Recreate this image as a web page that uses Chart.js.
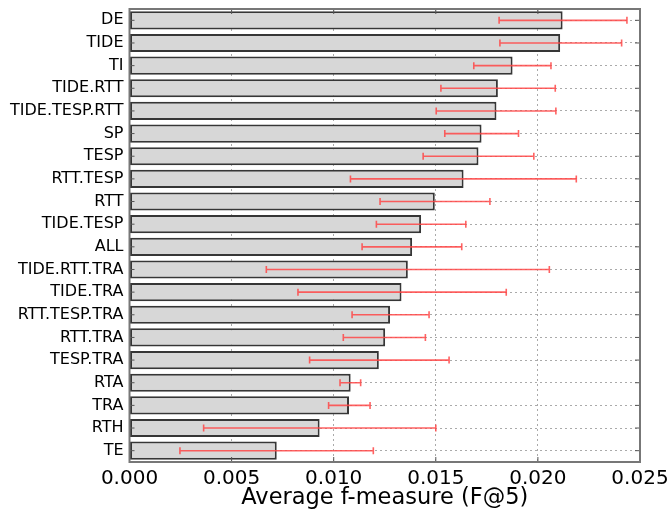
<!DOCTYPE html>
<html>
<head>
<meta charset="utf-8">
<script src="https://cdn.jsdelivr.net/npm/chart.js@4/dist/chart.umd.min.js"></script>
<style>
  html, body { margin: 0; padding: 0; background: #fff; }
  #wrap { width: 670px; height: 509px; }
</style>
</head>
<body>
<div id="wrap"><canvas id="chart"></canvas></div>
<script>
const categories = ['DE', 'TIDE', 'TI', 'TIDE.RTT', 'TIDE.TESP.RTT', 'SP', 'TESP', 'RTT.TESP', 'RTT', 'TIDE.TESP',
  'ALL', 'TIDE.RTT.TRA', 'TIDE.TRA', 'RTT.TESP.TRA', 'RTT.TRA', 'TESP.TRA', 'RTA', 'TRA', 'RTH', 'TE'];
const fMeasure = [0.02121, 0.02109, 0.01876, 0.01804, 0.01797, 0.01724, 0.01709, 0.01636, 0.01495, 0.01428,
  0.01384, 0.01363, 0.01332, 0.01276, 0.01252, 0.01221, 0.01083, 0.01075, 0.00931, 0.00721];
const errLow = [0.01810, 0.01814, 0.01686, 0.01525, 0.01502, 0.01544, 0.01438, 0.01082, 0.01227, 0.01209,
  0.01139, 0.00670, 0.00825, 0.01090, 0.01047, 0.00882, 0.01031, 0.00975, 0.00363, 0.00247];
const errHigh = [0.02436, 0.02410, 0.02064, 0.02085, 0.02088, 0.01905, 0.01980, 0.02188, 0.01765, 0.01647,
  0.01627, 0.02056, 0.01845, 0.01467, 0.01449, 0.01565, 0.01132, 0.01178, 0.01500, 0.01194];
const xTicks = [0, 0.005, 0.010, 0.015, 0.020, 0.025];

const FONT = "'DejaVu Sans', sans-serif";

// error bars + box frame with inward ticks, drawn over everything
const overlay = {
  id: 'overlay',
  afterDraw(chart) {
    const ctx = chart.ctx;
    const xs = chart.scales.x, ys = chart.scales.y;
    const a = chart.chartArea;
    ctx.save();
    ctx.strokeStyle = 'rgba(255,70,70,0.85)';
    ctx.lineWidth = 1.6;
    categories.forEach((c, i) => {
      const y = ys.getPixelForValue(i);
      const x1 = xs.getPixelForValue(errLow[i]);
      const x2 = xs.getPixelForValue(errHigh[i]);
      ctx.beginPath();
      ctx.moveTo(x1, y); ctx.lineTo(x2, y);
      ctx.moveTo(x1, y - 3.5); ctx.lineTo(x1, y + 3.5);
      ctx.moveTo(x2, y - 3.5); ctx.lineTo(x2, y + 3.5);
      ctx.stroke();
    });
    // ticks pointing inward
    ctx.strokeStyle = '#555';
    ctx.lineWidth = 1;
    ctx.beginPath();
    xTicks.forEach(v => {
      const x = xs.getPixelForValue(v);
      ctx.moveTo(x, a.bottom); ctx.lineTo(x, a.bottom - 5);
      ctx.moveTo(x, a.top); ctx.lineTo(x, a.top + 5);
    });
    categories.forEach((c, i) => {
      const y = ys.getPixelForValue(i);
      ctx.moveTo(a.left, y); ctx.lineTo(a.left + 5, y);
      ctx.moveTo(a.right, y); ctx.lineTo(a.right - 5, y);
    });
    ctx.stroke();
    ctx.strokeStyle = '#777';
    ctx.lineWidth = 2;
    ctx.strokeRect(a.left, a.top, a.right - a.left, a.bottom - a.top);
    ctx.restore();
  }
};

new Chart(document.getElementById('chart'), {
  type: 'bar',
  data: {
    labels: categories,
    datasets: [{
      data: fMeasure,
      backgroundColor: '#d7d7d7',
      borderColor: '#363636',
      borderWidth: 2,
      borderSkipped: false,
      barPercentage: 0.8,
      categoryPercentage: 1.0
    }]
  },
  options: {
    indexAxis: 'y',
    responsive: true,
    maintainAspectRatio: false,
    animation: false,
    layout: { padding: { left: 4, right: 0, top: 9, bottom: 0 } },
    plugins: { legend: { display: false }, tooltip: { enabled: false } },
    scales: {
      x: {
        z: 1,
        min: 0, max: 0.025,
        afterBuildTicks: axis => { axis.ticks = xTicks.map(v => ({ value: v })); },
        afterFit: axis => { axis.height = 47; axis.paddingRight = 30; },
        ticks: {
          color: '#000', padding: 7,
          font: { family: FONT, size: 20, lineHeight: 1.0 },
          callback: v => Number(v).toFixed(3)
        },
        grid: { color: '#aaa', lineWidth: 1, drawTicks: false },
        border: { display: false, dash: [2, 3] },
        title: {
          display: true, text: 'Average f-measure (F@5)', color: '#000',
          font: { family: FONT, size: 22.5, lineHeight: 0.92 },
          padding: { top: 0, bottom: 0 }
        }
      },
      y: {
        z: 1,
        ticks: { color: '#000', padding: 6, font: { family: FONT, size: 16, lineHeight: 0.3 } },
        grid: { color: '#aaa', lineWidth: 1, drawTicks: false, offset: false },
        border: { display: false, dash: [2, 3] }
      }
    }
  },
  plugins: [overlay]
});
</script>
</body>
</html>
